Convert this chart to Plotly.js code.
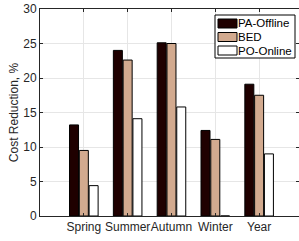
<!DOCTYPE html>
<html><head><meta charset="utf-8">
<script src="https://cdn.plot.ly/plotly-3.0.1.min.js"></script>
<style>html,body{margin:0;padding:0;background:#fff}</style>
</head><body>
<div id="chart" style="width:299px;height:241px"></div>
<script>
const categories = ['Spring', 'Summer', 'Autumn', 'Winter', 'Year'];
const seriesNames = ['PA-Offline', 'BED', 'PO-Online'];
const seriesColors = ['#1f0000', '#d2aa8f', '#ffffff'];
const paOffline = [13.2, 24.0, 25.1, 12.4, 19.1];
const bed = [9.5, 22.6, 25.0, 11.1, 17.5];
const poOnline = [4.4, 14.1, 15.8, 0, 9.0];
const positions = [1, 2, 3, 4, 5];
const yTicks = [0, 5, 10, 15, 20, 25, 30];
const seriesValues = [paOffline, bed, poOnline];

const W = 299, H = 241, ML = 40, MR = 0, MT = 9, MB = 25;
const pw = W - ML - MR, ph = H - MT - MB;
const px = v => (v - ML) / pw;
const py = v => (H - MB - v) / ph;

const lineStyle = {color: '#000', width: 1};
const traces = seriesNames.map((n, i) => ({
  type: 'bar', name: n, x: positions, y: seriesValues[i],
  marker: {color: seriesColors[i], line: lineStyle}
}));

const font = {family: 'Liberation Sans, Arial, sans-serif', size: 12, color: '#262626'};
const lfont = {family: 'Liberation Sans, Arial, sans-serif', size: 11.5, color: '#000'};

// custom legend (box, swatches, labels)
const shapes = [{type: 'rect', xref: 'paper', yref: 'paper', x0: px(215), x1: px(295), y0: py(15), y1: py(58),
                 line: {color: '#000', width: 1}, fillcolor: '#fff', layer: 'above'}];
const annotations = [];
seriesNames.forEach((n, i) => {
  const top = 19 + i * 13.5;
  shapes.push({type: 'rect', xref: 'paper', yref: 'paper', x0: px(218), x1: px(237), y0: py(top), y1: py(top + 9),
               line: {color: '#000', width: 1}, fillcolor: seriesColors[i], layer: 'above'});
  annotations.push({xref: 'paper', yref: 'paper', x: px(237), y: py(top + 4.5), xanchor: 'left', yanchor: 'middle',
                    text: n, showarrow: false, font: lfont, borderpad: 0});
});

const layout = {
  width: W, height: H,
  margin: {l: ML, r: MR, t: MT, b: MB},
  paper_bgcolor: '#fff', plot_bgcolor: '#fff',
  font: font,
  barmode: 'group', bargap: 0.33, bargroupgap: 0.08,
  showlegend: false,
  shapes: shapes, annotations: annotations,
  xaxis: {range: [0, 5.91], tickmode: 'array', tickvals: positions, ticktext: categories, tickangle: 0,
          showgrid: true, gridcolor: '#e6e6e6', zeroline: false, showline: true, linecolor: '#262626', linewidth: 1,
          mirror: 'ticks', ticks: 'inside', ticklen: 3, tickcolor: '#262626', tickfont: font, fixedrange: true},
  yaxis: {range: [0, 30], tickmode: 'array', tickvals: yTicks, ticktext: yTicks.map(String),
          showgrid: true, gridcolor: '#e6e6e6', zeroline: false, showline: true, linecolor: '#262626', linewidth: 1,
          mirror: 'ticks', ticks: 'inside', ticklen: 3, tickcolor: '#262626', tickfont: font,
          title: {text: 'Cost Reduction, %', font: font, standoff: 2}, fixedrange: true}
};
Plotly.newPlot('chart', traces, layout, {displayModeBar: false, staticPlot: true});
</script>
</body></html>
